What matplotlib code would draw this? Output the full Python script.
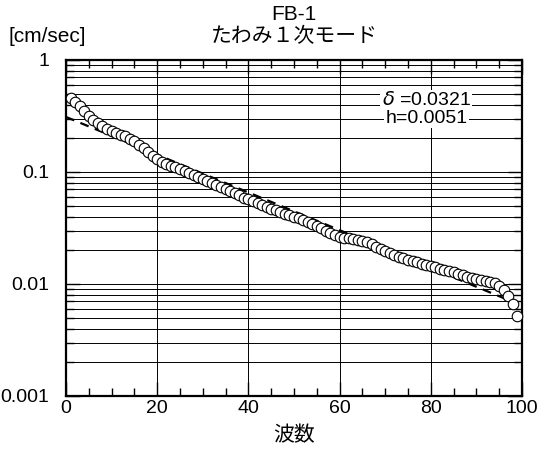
import matplotlib
matplotlib.use("Agg")
import matplotlib.pyplot as plt
from matplotlib.ticker import LogLocator, NullFormatter, FixedLocator, MultipleLocator
import numpy as np

plt.rcParams['font.family'] = ['Liberation Sans', 'Noto Sans CJK JP', 'DejaVu Sans']

# 波数ごとの振幅 [cm/sec]
wave_no = list(range(1, 100))
amplitude = [
    0.460, 0.425, 0.385, 0.348, 0.315, 0.290, 0.272, 0.255, 0.242, 0.232,
    0.224, 0.216, 0.208, 0.198, 0.188, 0.176, 0.164, 0.150, 0.138, 0.130,
    0.124, 0.119, 0.114, 0.110, 0.106, 0.102, 0.098, 0.094, 0.090, 0.086,
    0.083, 0.080, 0.077, 0.074, 0.071, 0.068, 0.065, 0.062, 0.059, 0.057,
    0.055, 0.053, 0.051, 0.049, 0.047, 0.0455, 0.044, 0.0425, 0.041, 0.0398,
    0.0385, 0.0370, 0.0358, 0.0343, 0.0328, 0.0313, 0.0298, 0.0284, 0.0274, 0.0265,
    0.0259, 0.0255, 0.0251, 0.0248, 0.0244, 0.0236, 0.0226, 0.0216, 0.0205, 0.0196,
    0.0189, 0.0182, 0.0176, 0.0170, 0.0165, 0.0160, 0.0156, 0.0152, 0.0148, 0.0145,
    0.0141, 0.0137, 0.0134, 0.0130, 0.0127, 0.0123, 0.0120, 0.0116, 0.0113, 0.0110,
    0.0108, 0.0106, 0.0104, 0.0102, 0.0096, 0.0088, 0.0078, 0.0066, 0.0052,
]

# 減衰の近似直線
fit_x = [0, 97]
fit_y = [0.31, 0.0072]

delta = 0.0321
h = 0.0051

fig = plt.figure(figsize=(5.48, 4.5), dpi=100)
ax = fig.add_axes([66/548, 1 - 396/450, (522 - 66)/548, (396 - 60)/450])

ax.set_yscale("log")
ax.set_xlim(0, 100)
ax.set_ylim(0.001, 1)

# 格子線
for v in [20, 40, 60, 80]:
    ax.axvline(v, color="black", lw=0.7, zorder=1)
for dec in [0.001, 0.01, 0.1]:
    for m in range(1, 10):
        ax.axhline(dec * m, color="black", lw=0.7, zorder=1)

ax.plot(fit_x, fit_y, color="black", lw=1.6, ls=(0, (4, 3)), zorder=2)
ax.plot(wave_no, amplitude, "o", ms=7.6, mfc="white", mec="black", mew=0.8,
        zorder=3, clip_on=False)

ax.text(79, 0.44, rf"$\delta$ ={delta}", ha="center", va="center", fontsize=14,
        bbox=dict(facecolor="white", edgecolor="none", pad=1), zorder=4)
ax.text(79, 0.30, f"h={h}", ha="center", va="center", fontsize=14,
        bbox=dict(facecolor="white", edgecolor="none", pad=1), zorder=4)

ax.xaxis.set_major_locator(FixedLocator([0, 20, 40, 60, 80, 100]))
ax.xaxis.set_minor_locator(MultipleLocator(5))
ax.yaxis.set_major_locator(FixedLocator([0.001, 0.01, 0.1, 1]))
ax.yaxis.set_minor_locator(LogLocator(base=10, subs=np.arange(2, 10)))
ax.yaxis.set_minor_formatter(NullFormatter())
ax.set_yticklabels(["0.001", "0.01", "0.1", "1"])

ax.tick_params(which="both", direction="in", top=True, right=True, labelsize=14)
ax.tick_params(which="major", length=10, width=1)
ax.tick_params(which="minor", length=6, width=1)
ax.tick_params(axis="y", pad=12)
ax.tick_params(axis="x", pad=3)

for s in ax.spines.values():
    s.set_linewidth(1.6)

fig.text(294/548, 1 - 14/450, "FB-1", ha="center", va="center", fontsize=15)
fig.text(294/548, 1 - 37/450, "たわみ１次モード", ha="center", va="center", fontsize=15)
fig.text(8/548, 1 - 37/450, "[cm/sec]", ha="left", va="center", fontsize=15)
ax.set_xlabel("波数", fontsize=15, labelpad=6)

fig.savefig("out.png", dpi=100)
